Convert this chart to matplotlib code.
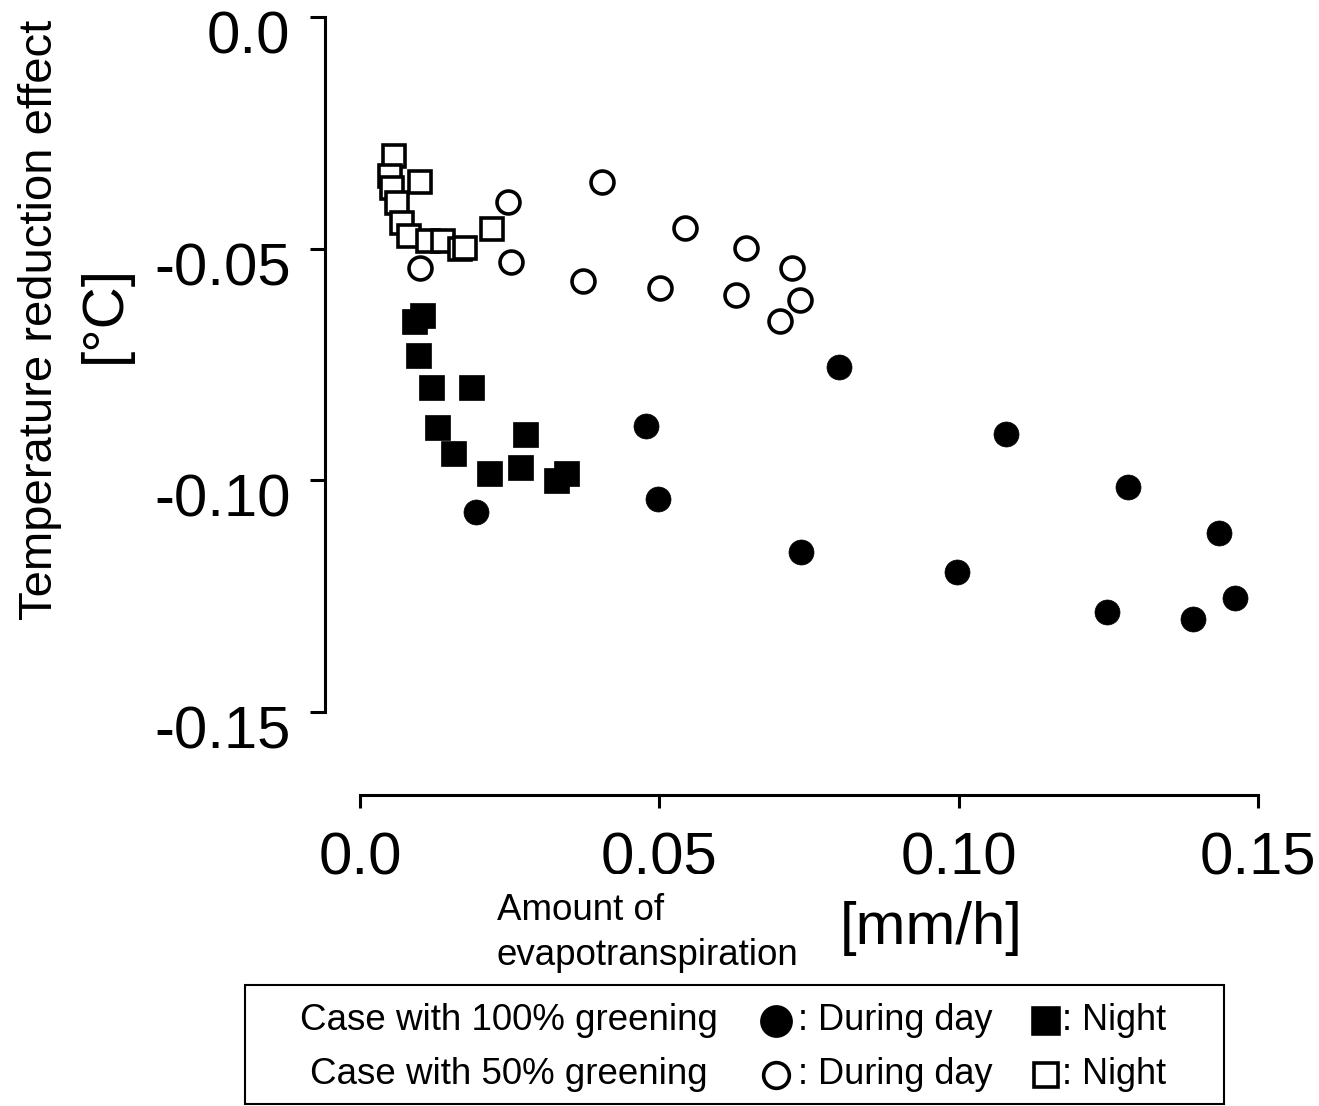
import matplotlib
matplotlib.use("Agg")
import matplotlib.pyplot as plt
from matplotlib.lines import Line2D
from matplotlib.patches import Rectangle
from matplotlib.transforms import ScaledTranslation

plt.rcParams['font.family'] = ['Liberation Sans', 'DejaVu Sans']

# 100% greening, day (filled circles)
full_day_x = [0.0194, 0.0478, 0.0498, 0.0737, 0.0800, 0.0997, 0.1079, 0.1283, 0.1248, 0.1391, 0.1435, 0.1462]
full_day_y = [-0.1068, -0.0883, -0.1040, -0.1155, -0.0755, -0.1198, -0.0900, -0.1014, -0.1284, -0.1299, -0.1114, -0.1254]

# 100% greening, night (filled squares)
full_night_x = [0.0090, 0.0104, 0.0097, 0.0119, 0.0185, 0.0129, 0.0155, 0.0215, 0.0276, 0.0267, 0.0327, 0.0344]
full_night_y = [-0.0656, -0.0643, -0.0729, -0.0799, -0.0799, -0.0885, -0.0941, -0.0984, -0.0900, -0.0971, -0.0999, -0.0984]

# 50% greening, day (open circles)
half_day_x = [0.0100, 0.0247, 0.0252, 0.0404, 0.0372, 0.0501, 0.0543, 0.0645, 0.0628, 0.0722, 0.0735, 0.0702]
half_day_y = [-0.0542, -0.0399, -0.0529, -0.0356, -0.0570, -0.0585, -0.0455, -0.0499, -0.0600, -0.0542, -0.0611, -0.0656]

# 50% greening, night (open squares)
half_night_x = [0.0057, 0.0050, 0.0053, 0.0062, 0.0100, 0.0070, 0.0082, 0.0114, 0.0139, 0.0167, 0.0175, 0.0220]
half_night_y = [-0.0300, -0.0343, -0.0369, -0.0401, -0.0356, -0.0445, -0.0473, -0.0483, -0.0483, -0.0501, -0.0499, -0.0458]

xticks = [0.0, 0.05, 0.10, 0.15]
xtick_labels = ["0.0", "0.05", "0.10", "0.15"]
yticks = [0.0, -0.05, -0.10, -0.15]
ytick_labels = ["0.0", "-0.05", "-0.10", "-0.15"]

W, H = 1319, 1106
fig = plt.figure(figsize=(W / 100, H / 100), dpi=100)
ax = fig.add_axes([360 / W, 1 - 712 / H, 898 / W, 695 / H])

ax.plot(half_night_x, half_night_y, ls="none", marker="s", ms=15.5, mfc="white", mec="black", mew=2.6, clip_on=False)
ax.plot(half_day_x, half_day_y, ls="none", marker="o", ms=16.5, mfc="white", mec="black", mew=2.6, clip_on=False)
ax.plot(full_night_x, full_night_y, ls="none", marker="s", ms=18, mfc="black", mec="black", mew=0.5, clip_on=False)
ax.plot(full_day_x, full_day_y, ls="none", marker="o", ms=18, mfc="black", mec="black", mew=0.5, clip_on=False)

ax.set_xlim(0, 0.15)
ax.set_ylim(-0.15, 0)
ax.set_xticks(xticks)
ax.set_xticklabels(xtick_labels)
ax.set_yticks(yticks)
ax.set_yticklabels(ytick_labels)

for s in ["top", "right"]:
    ax.spines[s].set_visible(False)
ax.spines["left"].set_position(("outward", 25))
ax.spines["bottom"].set_position(("outward", 60))
ax.spines["left"].set_linewidth(2.2)
ax.spines["bottom"].set_linewidth(2.2)
ax.tick_params(axis="y", direction="out", length=11, width=2.2, pad=14, labelsize=43)
ax.tick_params(axis="x", direction="out", length=9, width=2.2, pad=17, labelsize=43)

# y tick labels sit a bit below their ticks in the original
shift = ScaledTranslation(0, -15 / 100, fig.dpi_scale_trans)
for lab in ax.get_yticklabels():
    lab.set_transform(lab.get_transform() + shift)

# y label
fig.text(40 / W, 1 - 320 / H, "Temperature reduction effect", rotation=90, ha="center", va="center", fontsize=34)
fig.text(105 / W, 1 - 314 / H, "[°C]", rotation=90, ha="center", va="center", fontsize=42)

# hide lower part of the 0.05 label as in the original
fig.add_artist(Rectangle((585 / W, 1 - 900 / H), 150 / W, 26 / H, transform=fig.transFigure,
                         facecolor="white", edgecolor="none", zorder=10))

# x label
fig.text(497 / W, 1 - 933 / H, "Amount of\nevapotranspiration", ha="left", va="center", fontsize=26.5,
         linespacing=1.35, zorder=11)
fig.text(931 / W, 1 - 928 / H, "[mm/h]", ha="center", va="center", fontsize=43, zorder=11)

# legend box
fig.add_artist(Rectangle((245 / W, 1 - 1104 / H), 979 / W, 119 / H, transform=fig.transFigure,
                         facecolor="none", edgecolor="black", linewidth=1.5))
rows = [
    ("Case with 100% greening", "black", 1021),
    ("Case with 50% greening", "white", 1075),
]
for label, fc, py in rows:
    yf = 1 - py / H
    fig.text(509 / W, yf, label, ha="center", va="center", fontsize=26.5)
    fig.add_artist(Line2D([776 / W], [yf], transform=fig.transFigure, ls="none", marker="o",
                          ms=21 if fc == "black" else 18.5, mfc=fc, mec="black", mew=2.6))
    fig.text(798 / W, yf, ": During day", ha="left", va="center", fontsize=26)
    fig.add_artist(Line2D([1046 / W], [yf], transform=fig.transFigure, ls="none", marker="s",
                          ms=19 if fc == "black" else 17, mfc=fc, mec="black", mew=2.6))
    fig.text(1062 / W, yf, ": Night", ha="left", va="center", fontsize=26)

fig.savefig("out.png", dpi=100)
